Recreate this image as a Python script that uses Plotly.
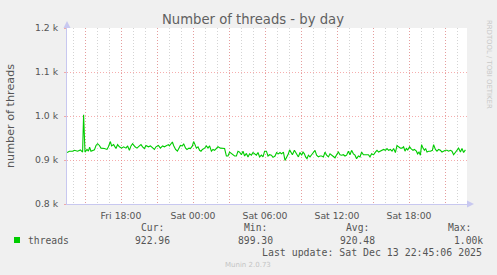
import pandas as pd
import plotly.graph_objects as go

# ---- data ----
start_time = "2025-12-12 13:30"
minutes = [0, 12, 28, 37, 53, 67, 78, 83, 90, 100, 107, 113, 120, 128, 137, 145, 153, 162, 170, 187,
           200, 207, 217, 223, 233, 245, 253, 262, 273, 283, 295, 303, 312, 320, 328, 340, 350, 362,
           370, 378, 387, 395, 407, 417, 428, 437, 445, 457, 467, 478, 487, 495, 507, 512,
           517, 527, 533, 543, 552, 560, 567, 577, 583, 593, 600, 610, 617, 627, 633, 640, 647, 655,
           663, 670, 677, 688, 697, 705, 713, 722, 730, 738, 747, 755, 767, 777, 788, 797, 805, 813,
           822, 830, 838, 847, 855, 863, 872, 880, 888, 897, 905, 913, 922, 930, 938, 947, 955, 963,
           972, 980, 988, 997, 1005, 1013, 1022,
           1030, 1040, 1048, 1057, 1065, 1073, 1082, 1090, 1098, 1107, 1113, 1120, 1127, 1137, 1143,
           1150, 1157, 1165, 1173, 1180, 1187, 1193, 1200, 1207, 1215, 1223, 1232, 1240, 1248, 1257,
           1265, 1273, 1282, 1290, 1298, 1307, 1315, 1323, 1332, 1340, 1348, 1357, 1365, 1373, 1382,
           1390, 1398, 1407, 1415, 1423, 1432, 1440, 1448, 1457, 1465, 1473, 1482, 1490, 1498, 1507,
           1515, 1523, 1532,
           1533, 1542, 1550, 1558, 1567, 1575, 1583, 1592, 1600, 1608, 1617, 1625, 1633, 1642, 1650,
           1658, 1667, 1675, 1683, 1690, 1697, 1703, 1713, 1720, 1730, 1737, 1747, 1753, 1760, 1767,
           1773, 1780, 1787, 1793, 1800, 1808, 1817, 1827, 1833, 1842, 1850, 1858, 1867, 1875, 1883,
           1892, 1900, 1908, 1917, 1925, 1933, 1942, 1950, 1958, 1967, 1975, 1983, 1992]
threads = [917, 920, 920, 922, 920, 923, 918, 1003, 918, 924, 920, 929, 920, 922, 923, 933, 937, 933, 927, 926,
           924, 930, 942, 932, 935, 926, 935, 930, 927, 930, 927, 932, 922, 932, 937, 930, 927, 932,
           935, 930, 926, 933, 930, 932, 927, 924, 930, 933, 927, 932, 930, 932, 935, 932,
           936, 941, 933, 924, 920, 927, 933, 932, 937, 927, 924, 927, 926, 932, 942, 935, 927, 930,
           922, 920, 924, 927, 932, 927, 932, 920, 924, 922, 927, 930, 927, 927, 926, 909, 909, 918,
           914, 911, 909, 909, 920, 918, 912, 920, 909, 915, 907, 914, 911, 917, 914, 911, 917, 907,
           911, 907, 920, 920, 909, 912, 911,
           906, 909, 917, 914, 917, 914, 918, 899, 905, 914, 923, 918, 912, 922, 918,
           911, 907, 917, 911, 918, 914, 907, 903, 911, 907, 912, 918, 922, 911, 907,
           909, 909, 907, 918, 911, 907, 914, 911, 909, 905, 912, 918, 912, 911, 912,
           909, 911, 920, 912, 922, 914, 911, 903, 909, 907, 918, 912, 912, 911, 912,
           907, 914, 912,
           912, 918, 922, 918, 920, 922, 924, 922, 926, 922, 924, 920, 926, 917, 933,
           930, 927, 927, 930, 920, 927, 922, 930, 926, 922, 924, 920, 914, 918, 911,
           935, 927, 922, 926, 918, 920, 920, 922, 935, 924, 920, 924, 922, 918, 920,
           922, 922, 920, 922, 920, 912, 917, 922, 927, 918, 926, 917, 923]

y_ticks = [800, 900, 1000, 1100, 1200]
y_labels = ["0.8 k", "0.9 k", "1.0 k", "1.1 k", "1.2 k"]
x_ticks = ["2025-12-12 15:00", "2025-12-12 18:00", "2025-12-12 21:00", "2025-12-13 00:00",
           "2025-12-13 03:00", "2025-12-13 06:00", "2025-12-13 09:00", "2025-12-13 12:00",
           "2025-12-13 15:00", "2025-12-13 18:00", "2025-12-13 21:00"]
x_labels = ["", "Fri 18:00", "", "Sat 00:00", "", "Sat 06:00", "", "Sat 12:00", "", "Sat 18:00", ""]
x_range = ["2025-12-12 13:30", "2025-12-13 22:50"]

legend_name = "threads"
stat_heads = ["Cur:", "Min:", "Avg:", "Max:"]
stat_values = ["922.96", "899.30", "920.48", "1.00k"]
last_update = "Last update: Sat Dec 13 22:45:06 2025"

times = pd.Timestamp(start_time) + pd.to_timedelta(minutes, unit="min")

# ---- geometry (pixels) ----
W, H = 497, 275
L, R, T, B = 67, 467, 28, 204
pw, ph = R - L, B - T


def px(x):
    return (x - L) / pw


def py(y):
    return (B - y) / ph


GREEN = "#00CC00"
TXT = "#555555"
MGRID = "rgba(240,120,120,0.6)"
GRID = "rgba(170,170,170,0.5)"
AXIS = "#C8C8F0"
DASH = "1px,2px"

fig = go.Figure()
fig.add_trace(go.Scatter(x=times, y=threads, mode="lines",
                         line=dict(color=GREEN, width=1.1), hoverinfo="skip",
                         showlegend=False))

fig.update_layout(
    width=W, height=H,
    margin=dict(l=L, r=W - R, t=T, b=H - B, pad=0),
    paper_bgcolor="#F0F0F0", plot_bgcolor="#FFFFFF",
    font=dict(family="DejaVu Sans", color=TXT, size=9.3),
    showlegend=False,
)
fig.update_xaxes(
    type="date", range=x_range,
    tickvals=x_ticks, ticktext=x_labels,
    showgrid=True, gridcolor=MGRID, griddash=DASH, gridwidth=1,
    minor=dict(dtick=3600000, showgrid=True, gridcolor=GRID, griddash=DASH, gridwidth=1),
    showline=True, linecolor=AXIS, linewidth=1,
    ticks="", tickfont=dict(size=9.3, color=TXT), ticklabelstandoff=3,
    zeroline=False, fixedrange=True,
)
fig.update_yaxes(
    range=[800, 1200], tickvals=y_ticks, ticktext=y_labels,
    showgrid=True, gridcolor=MGRID, griddash=DASH, gridwidth=1,
    showline=True, linecolor=AXIS, linewidth=1,
    ticks="outside", ticklen=2, tickcolor=MGRID,
    tickfont=dict(size=9.3, color=TXT), ticklabelstandoff=4,
    zeroline=False, fixedrange=True,
)

# axis arrows
fig.add_shape(type="path", xref="paper", yref="paper", line=dict(width=0),
              fillcolor=AXIS,
              path=f"M {px(63.5)} {py(28)} L {px(70.5)} {py(28)} L {px(67)} {py(21)} Z")
fig.add_shape(type="path", xref="paper", yref="paper", line=dict(width=0),
              fillcolor=AXIS,
              path=f"M {px(467)} {py(200.5)} L {px(467)} {py(207.5)} L {px(474)} {py(204)} Z")

ann = []
ann.append(dict(text="Number of threads - by day", x=px(253), y=py(19), xanchor="center",
                yanchor="middle", font=dict(size=13.2, color="#606060")))
ann.append(dict(text="number of threads", x=px(10), y=py(116), xanchor="center",
                yanchor="middle", textangle=-90, font=dict(size=11.2, color=TXT)))
ann.append(dict(text="RRDTOOL / TOBI OETIKER", x=px(489), y=py(64), xanchor="center",
                yanchor="middle", textangle=90, font=dict(size=6.9, color="#C8C8C8")))
mono = "DejaVu Sans Mono"
ann.append(dict(text=legend_name, x=px(27), y=py(240), xanchor="left", yanchor="middle",
                font=dict(family=mono, size=9.7, color=TXT)))
head_x = [140.3, 242.7, 345.3, 447]
val_x = [134.3, 237, 339.3, 453.3]
for hx, h, vx, v in zip(head_x, stat_heads, val_x, stat_values):
    ann.append(dict(text=h, x=px(hx), y=py(227.5), xanchor="left", yanchor="middle",
                    font=dict(family=mono, size=9.7, color=TXT)))
    ann.append(dict(text=v, x=px(vx), y=py(240), xanchor="left", yanchor="middle",
                    font=dict(family=mono, size=9.7, color=TXT)))
ann.append(dict(text=last_update, x=px(482.5), y=py(252), xanchor="right", yanchor="middle",
                font=dict(family=mono, size=9.9, color=TXT)))
ann.append(dict(text="Munin 2.0.73", x=px(248), y=py(264.5), xanchor="center", yanchor="middle",
                font=dict(size=7, color="#C4C4C4")))
for a in ann:
    a.update(xref="paper", yref="paper", showarrow=False, borderpad=0)
fig.update_layout(annotations=ann)

# legend colour box
fig.add_shape(type="rect", xref="paper", yref="paper", line=dict(width=0),
              fillcolor=GREEN, x0=px(14), x1=px(20), y0=py(243), y1=py(237))

fig.write_html("out.html")
